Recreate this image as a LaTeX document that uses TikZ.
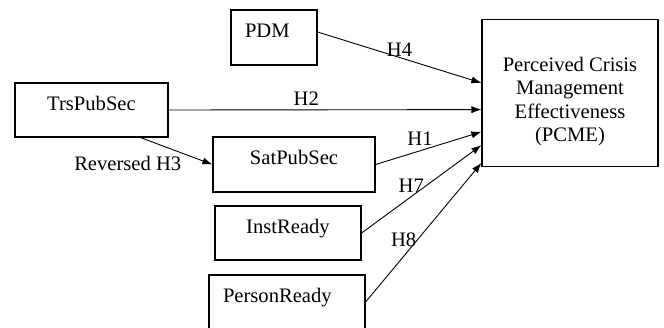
\documentclass[tikz,border=0pt]{standalone}
\usepackage{fontspec}
\setmainfont{Liberation Serif}
\usetikzlibrary{arrows.meta, positioning, calc}
\tikzstyle{rect} = [draw, rectangle, line width=0.6pt, text height=7pt, text depth=7pt]
\tikzstyle{lrect} = [rect, inner xsep=7pt, align=left]
\tikzstyle{bigrect} = [draw, rectangle, line width=0.6pt, align=center, minimum width=88pt, minimum height=73.5pt]
\tikzstyle{line} = [draw, line width=0.45pt, -{Latex[length=5pt,width=3.6pt]}]
\tikzstyle{hyp} = [inner sep=1pt]

\begin{document}
\begin{tikzpicture}[x=0.5pt, y=-0.5pt, every node/.style={font=\fontsize{10.3}{11.8}\selectfont}]
	\useasboundingbox (0,0) rectangle (664,327);

	\node [lrect, text width=29pt, minimum height=27.5pt] (pdm) at (274,37.5) {PDM};
	\node [rect, minimum width=76.5pt, minimum height=27pt] (trs) at (91.5,110) {TrsPubSec};
	\node [rect, minimum width=81pt, minimum height=27.5pt] (sat) at (294,164.5) {SatPubSec};
	\node [rect, minimum width=73pt, minimum height=27pt] (inst) at (288,233) {InstReady};
	\node [lrect, text width=64pt, minimum height=27pt] (pers) at (287,302) {PersonReady};
	\node [bigrect] (pcme) at (570,93.3) {\rule{0pt}{15.4pt}Perceived Crisis\\Management\\Effectiveness\\(PCME)};

	\path [line] ([yshift=2.75pt]pdm.east) -- ($(pcme.north west)!0.43!(pcme.south west)$)
		node [hyp, pos=0.5, above, inner sep=0.5pt] {H4};
	\path [line] (trs.east) -- ($(pcme.north west)!0.61!(pcme.south west)$)
		node [hyp, pos=0.44, above, inner sep=2pt] {H2};
	\path [line] ([xshift=-14pt]trs.south east) -- (sat.west)
		node [hyp, pos=0.6, below left] {Reversed H3};
	\path [line] (sat.east) -- ($(pcme.north west)!0.76!(pcme.south west)$)
		node [hyp, pos=0.42, above, inner sep=2.5pt] {H1};
	\path [line] (inst.east) -- ($(pcme.north west)!0.85!(pcme.south west)$)
		node [hyp, pos=0.54, left] {H7};
	\path [line] (pers.east) -- ($(pcme.north west)!0.97!(pcme.south west)$)
		node [hyp, pos=0.45, left, inner sep=0.5pt] {H8};
\end{tikzpicture}
\end{document}
